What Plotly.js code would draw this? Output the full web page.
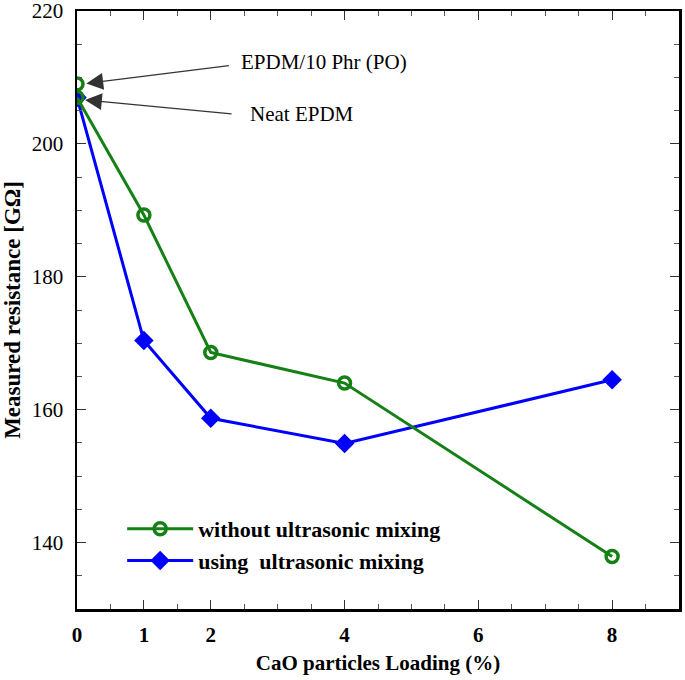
<!DOCTYPE html>
<html>
<head>
<meta charset="utf-8">
<script src="https://cdn.plot.ly/plotly-3.0.1.min.js"></script>
<style>html,body{margin:0;padding:0;background:#fff;}</style>
</head>
<body>
<div id="chart" style="width:685px;height:680px;"></div>
<script>
// Data
const loading = [0, 1, 2, 4, 8];
const withoutUltrasonic = [207, 189.3, 168.6, 164.0, 137.9];
const usingUltrasonic = [207, 170.4, 158.7, 154.9, 164.5];
const poLoading = [0];
const poValue = [209];
const xTickVals = [0, 1, 2, 4, 6, 8];
const xTickText = ['0', '1', '2', '4', '6', '8'];
const yTickVals = [140, 160, 180, 200, 220];
const seriesNames = ['without ultrasonic mixing', 'using  ultrasonic mixing'];

const GREEN = '#158015';
const BLUE = '#0000ff';
const FONT = 'Liberation Serif, Times New Roman, serif';

const traces = [
  {
    x: loading, y: usingUltrasonic, name: seriesNames[1],
    mode: 'lines+markers',
    line: {color: BLUE, width: 3},
    marker: {symbol: 'diamond', size: 15, color: BLUE}
  },
  {
    x: loading, y: withoutUltrasonic, name: seriesNames[0],
    mode: 'lines+markers',
    line: {color: GREEN, width: 3},
    marker: {symbol: 'circle-open', size: 12, color: GREEN, line: {width: 3.5, color: GREEN}}
  },
  {
    x: poLoading, y: poValue, name: 'EPDM/10 Phr (PO)', showlegend: false,
    mode: 'markers',
    marker: {symbol: 'circle-open', size: 12, color: GREEN, line: {width: 3.5, color: GREEN}}
  }
];

const layout = {
  width: 685, height: 680,
  margin: {l: 77, r: 6, t: 11, b: 71},
  paper_bgcolor: '#fff', plot_bgcolor: '#fff',
  font: {family: FONT, color: '#000', size: 20},
  showlegend: true,
  legend: {
    x: 0.075, y: 0.107, xanchor: 'left', yanchor: 'middle',
    traceorder: 'reversed',
    font: {family: FONT, size: 22, weight: 'bold', color: '#000'},
    bgcolor: 'rgba(0,0,0,0)', tracegroupgap: 0, itemwidth: 66
  },
  xaxis: {
    range: [0, 9], showgrid: false, zeroline: false,
    showline: true, linewidth: 2.5, linecolor: '#000', mirror: 'ticks',
    tickmode: 'array', tickvals: xTickVals, ticktext: xTickText,
    ticks: 'inside', ticklen: 9, tickwidth: 1.2, tickcolor: '#333',
    tickfont: {family: FONT, size: 21, weight: 'bold'},
    ticklabelstandoff: 5,
    minor: {dtick: 0.5, ticks: 'inside', ticklen: 5, tickwidth: 1, tickcolor: '#555', showgrid: false},
    title: {text: 'CaO particles Loading (%)', font: {family: FONT, size: 21, weight: 'bold'}, standoff: 10}
  },
  yaxis: {
    range: [130, 220], showgrid: false, zeroline: false,
    showline: true, linewidth: 2.5, linecolor: '#000', mirror: 'ticks',
    tickmode: 'array', tickvals: yTickVals,
    ticks: 'inside', ticklen: 9, tickwidth: 1.2, tickcolor: '#333',
    tickfont: {family: FONT, size: 21},
    ticklabelstandoff: 7, ticklabeloverflow: 'allow',
    minor: {dtick: 5, ticks: 'inside', ticklen: 5, tickwidth: 1, tickcolor: '#555', showgrid: false},
    title: {text: 'Measured resistance [GΩ]', font: {family: FONT, size: 23, weight: 'bold'}, standoff: 7}
  },
  annotations: [
    {x: 0.14, y: 209.1, xref: 'x', yref: 'y', text: '', showarrow: true,
     ax: 144, ay: -18, arrowhead: 2, arrowsize: 2.8, arrowwidth: 1.2, arrowcolor: '#333'},
    {x: 0.12, y: 206.6, xref: 'x', yref: 'y', text: '', showarrow: true,
     ax: 148, ay: 14, arrowhead: 2, arrowsize: 2.8, arrowwidth: 1.2, arrowcolor: '#333'},
    {x: 2.42, y: 212.4, xref: 'x', yref: 'y', text: 'EPDM/10 Phr (PO)', showarrow: false,
     xanchor: 'left', yanchor: 'middle', font: {family: FONT, size: 21, color: '#000'}},
    {x: 2.55, y: 204.5, xref: 'x', yref: 'y', text: 'Neat EPDM', showarrow: false,
     xanchor: 'left', yanchor: 'middle', font: {family: FONT, size: 21, color: '#000'}}
  ]
};

Plotly.newPlot('chart', traces, layout, {displayModeBar: false, staticPlot: true});
</script>
</body>
</html>
